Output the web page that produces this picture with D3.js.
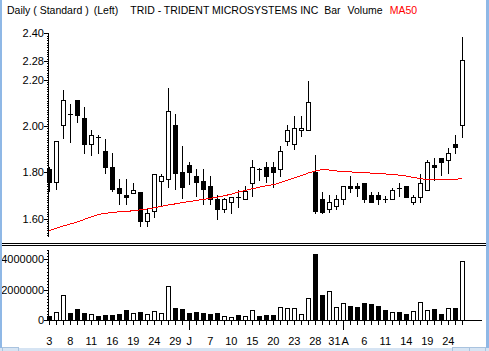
<!DOCTYPE html>
<html><head><meta charset="utf-8">
<script src="https://cdn.jsdelivr.net/npm/d3@7"></script>
<style>
body{margin:0;background:#fff;}
svg{display:block;}
text{font-family:"Liberation Sans",Arial,sans-serif;font-size:11px;fill:#000;}
</style>
</head><body>
<svg id="c" width="489" height="351"></svg>
<script>
// ---- data (TRID daily, Jun 3 – Aug 26 2009) ----
const dates = ["06-03","06-04","06-05","06-08","06-09","06-10","06-11","06-12","06-15","06-16","06-17","06-18","06-19","06-22","06-23","06-24","06-25","06-26","06-29","06-30",
"07-01","07-02","07-06","07-07","07-08","07-09","07-10","07-13","07-14","07-15","07-16","07-17","07-20","07-21","07-22","07-23","07-24","07-27","07-28","07-29","07-30","07-31",
"08-03","08-04","08-05","08-06","08-07","08-10","08-11","08-12","08-13","08-14","08-17","08-18","08-19","08-20","08-21","08-24","08-25","08-26"];
const open  = [1.814,1.760,2.003,2.050,2.112,2.033,1.921,1.953,1.891,1.823,1.731,1.702,1.712,1.715,1.591,1.632,1.763,1.770,2.003,1.800,
1.830,1.783,1.762,1.740,1.684,1.640,1.671,1.692,1.684,1.753,1.814,1.822,1.822,1.814,1.934,1.922,1.981,1.981,1.801,1.684,
1.641,1.654,1.684,1.740,1.740,1.753,1.701,1.701,1.684,1.684,1.731,1.740,1.671,1.692,1.722,1.830,1.861,1.852,1.921,2.003];
const high  = [1.824,1.935,2.155,2.095,2.112,2.081,1.983,1.960,1.944,1.882,1.770,1.770,1.754,1.715,1.640,1.792,1.793,2.165,2.052,1.914,
1.845,1.813,1.813,1.784,1.702,1.691,1.692,1.722,1.742,1.853,1.820,1.845,1.845,1.914,2.003,2.042,2.042,2.193,1.875,1.714,
1.702,1.702,1.740,1.784,1.753,1.753,1.714,1.714,1.699,1.731,1.753,1.740,1.702,1.793,1.852,1.862,1.862,1.905,1.960,2.384];
const low   = [1.721,1.728,1.950,1.932,2.019,1.882,1.875,1.882,1.799,1.718,1.662,1.662,1.712,1.570,1.570,1.609,1.659,1.738,1.727,1.691,
1.751,1.699,1.662,1.662,1.600,1.630,1.623,1.652,1.684,1.699,1.767,1.760,1.738,1.783,1.919,1.902,1.958,1.981,1.623,1.623,
1.630,1.640,1.662,1.714,1.699,1.670,1.671,1.662,1.670,1.684,1.699,1.692,1.662,1.670,1.722,1.767,1.790,1.799,1.882,1.951];
const close = [1.760,1.935,2.111,2.050,2.049,1.921,1.960,1.953,1.822,1.729,1.712,1.692,1.722,1.591,1.626,1.791,1.786,2.065,1.799,1.738,
1.800,1.760,1.730,1.684,1.640,1.684,1.692,1.692,1.721,1.822,1.814,1.784,1.800,1.891,1.981,1.990,1.990,2.102,1.632,1.630,
1.671,1.684,1.740,1.731,1.731,1.684,1.671,1.684,1.684,1.722,1.731,1.692,1.692,1.753,1.843,1.822,1.843,1.882,1.911,2.283];
const volume = [260000,510000,1630000,460000,730000,440000,370000,260000,330000,330000,400000,660000,440000,530000,370000,570000,440000,2220000,790000,730000,
460000,530000,460000,400000,460000,240000,180000,330000,240000,660000,260000,330000,330000,860000,790000,790000,370000,1450000,4370000,1670000,
1910000,860000,1120000,920000,860000,1120000,1050000,920000,660000,530000,530000,400000,590000,1190000,660000,730000,400000,790000,790000,3870000];
const ma50 = [1.548,1.559,1.569,1.577,1.586,1.597,1.608,1.618,1.623,1.627,1.630,1.632,1.634,1.638,1.642,1.647,1.653,1.659,1.664,1.670,
1.674,1.679,1.683,1.688,1.693,1.699,1.706,1.715,1.722,1.729,1.736,1.742,1.747,1.755,1.766,1.776,1.786,1.797,1.806,1.812,
1.810,1.806,1.804,1.802,1.800,1.798,1.797,1.795,1.793,1.791,1.788,1.784,1.778,1.773,1.769,1.767,1.767,1.767,1.768,1.776];
const priceTicks = [1.60,1.80,2.00,2.20,2.28,2.40];
const volumeTicks = [0,2000000,4000000];
const dayTickDates  = ["06-03","06-08","06-11","06-16","06-19","06-24","06-29","07-07","07-10","07-15","07-20","07-23","07-28","07-31","08-06","08-11","08-14","08-19","08-24"];
const dayTickLabels = ["3","8","11","16","19","24","29","7","10","15","20","23","28","31","6","11","14","19","24"];
const monthTickDates  = ["07-01","08-03"];
const monthTickLabels = ["J","A"];
const titleParts = ["Daily ( Standard )","(Left)","TRID - TRIDENT MICROSYSTEMS INC","Bar","Volume","MA50"];

// ---- drawing ----
const svg = d3.select("#c");
svg.append("rect").attr("width",489).attr("height",351).attr("fill","#fff");

const x = d3.scalePoint().domain(dates).range([49.3, 462.3]);
const y = d3.scaleLinear().domain([1.6, 2.4]).range([218.7, 33.3]);
const yv = d3.scaleLinear().domain([0, 4000000]).range([320, 259.4]);
const px = d => Math.round(x(d));

const data = dates.map((d,i)=>({d,o:open[i],h:high[i],l:low[i],c:close[i],v:volume[i],m:ma50[i]}));

// title: laid out left to right
const title = svg.append("g");
const gaps = [5,12,6,7,7];
let tx = 7;
titleParts.forEach((t,i)=>{
  const el = title.append("text").attr("x",tx).attr("y",14).style("font-size","10.5px")
    .style("fill", i===titleParts.length-1 ? "#ff0000" : "#000").text(t);
  tx += el.node().getComputedTextLength() + (gaps[i]||0);
});

// price axis
const ax = svg.append("g").attr("shape-rendering","crispEdges");
ax.append("line").attr("x1",48.5).attr("x2",48.5).attr("y1",33).attr("y2",237).attr("stroke","#000");
d3.range(1.53, 2.4001, 0.01).forEach(v=>{
  ax.append("rect").attr("x",47).attr("y",Math.round(y(v))).attr("width",1).attr("height",1).attr("fill","#000");
});
priceTicks.forEach(t=>{
  const yy = Math.round(y(t))+0.5;
  ax.append("line").attr("x1",44).attr("x2",48).attr("y1",yy).attr("y2",yy).attr("stroke","#000");
  svg.append("text").attr("x",44).attr("y",y(t)+4).attr("text-anchor","end").text(t.toFixed(2));
});

// candles
const cg = svg.append("g").attr("shape-rendering","crispEdges");
data.forEach(p=>{
  const cx = px(p.d);
  const yh = Math.round(y(p.h)), yl = Math.round(y(p.l));
  cg.append("line").attr("x1",cx+0.5).attr("x2",cx+0.5).attr("y1",yh).attr("y2",yl+1).attr("stroke","#000");
  const top = Math.round(y(Math.max(p.o,p.c))), bot = Math.round(y(Math.min(p.o,p.c)));
  if (bot - top < 1) {
    cg.append("line").attr("x1",cx-2).attr("x2",cx+3).attr("y1",top+0.5).attr("y2",top+0.5).attr("stroke","#000");
  } else {
    cg.append("rect").attr("x",cx-1.5).attr("y",top+0.5).attr("width",4).attr("height",bot-top)
      .attr("fill", p.c>p.o ? "#fff" : "#000").attr("stroke","#000");
  }
});

// MA50
svg.append("path").datum(data)
  .attr("d", d3.line().x(p=>x(p.d)).y(p=>y(p.m)))
  .attr("fill","none").attr("stroke","#ff0000").attr("stroke-width",1).attr("shape-rendering","crispEdges");

// separator
svg.append("g").attr("shape-rendering","crispEdges").selectAll("line").data([243.5,245.5]).join("line")
  .attr("x1",2).attr("x2",487).attr("y1",d=>d).attr("y2",d=>d).attr("stroke","#000");

// volume axis
const vg = svg.append("g").attr("shape-rendering","crispEdges");
vg.append("line").attr("x1",48.5).attr("x2",48.5).attr("y1",250).attr("y2",321).attr("stroke","#000");
d3.range(0, 4600001, 200000).forEach(v=>{
  vg.append("rect").attr("x",47).attr("y",Math.round(yv(v))).attr("width",1).attr("height",1).attr("fill","#000");
});
volumeTicks.forEach(t=>{
  const yy = Math.round(yv(t))+0.5;
  vg.append("line").attr("x1",44).attr("x2",48).attr("y1",yy).attr("y2",yy).attr("stroke","#000");
  svg.append("text").attr("x",44).attr("y",yv(t)+4).attr("text-anchor","end").text(String(t));
});

// volume bars
data.forEach(p=>{
  const cx = px(p.d);
  const top = Math.round(yv(p.v));
  vg.append("rect").attr("x",cx-1.5).attr("y",top+0.5).attr("width",4).attr("height",320-top)
    .attr("fill", p.c>p.o ? "#fff" : "#000").attr("stroke","#000");
});
vg.append("line").attr("x1",48).attr("x2",482).attr("y1",320.5).attr("y2",320.5).attr("stroke","#000");
dates.forEach(d=>{
  const len = monthTickDates.includes(d) ? 9 : 4;
  vg.append("line").attr("x1",px(d)+0.5).attr("x2",px(d)+0.5).attr("y1",320).attr("y2",321+len).attr("stroke","#000");
});

// x labels
const labs = dayTickDates.map((d,i)=>({d,t:dayTickLabels[i]}))
  .concat(monthTickDates.map((d,i)=>({d,t:monthTickLabels[i]})))
  .sort((a,b)=>dates.indexOf(a.d)-dates.indexOf(b.d));
const lg = svg.append("g");
const nodes = labs.map(l=> lg.append("text").attr("x",x(l.d)).attr("y",345).attr("text-anchor","middle").text(l.t));
for (let i=1;i<nodes.length;i++){
  const a = nodes[i-1].node().getBBox(), b = nodes[i].node().getBBox();
  const ov = a.x + a.width - b.x;
  if (ov > 0) {
    nodes[i-1].attr("x", +nodes[i-1].attr("x") - ov/2 - 0.5);
    nodes[i].attr("x", +nodes[i].attr("x") + ov/2 + 0.5);
  }
}

// window frame
const fr = svg.append("g").attr("shape-rendering","crispEdges");
fr.append("rect").attr("x",0).attr("y",0).attr("width",2).attr("height",351).attr("fill","#8fb8e6");
fr.append("rect").attr("x",486).attr("y",0).attr("width",3).attr("height",351).attr("fill","#8fb8e6");
fr.append("rect").attr("x",0).attr("y",348).attr("width",489).attr("height",3).attr("fill","#d6e4f3");
fr.append("rect").attr("x",2.5).attr("y",347.5).attr("width",16).attr("height",5).attr("fill","none").attr("stroke","#a9c3df");
fr.append("rect").attr("x",452.5).attr("y",347.5).attr("width",17).attr("height",5).attr("fill","none").attr("stroke","#a9c3df");
fr.append("rect").attr("x",469.5).attr("y",347.5).attr("width",16).attr("height",5).attr("fill","none").attr("stroke","#a9c3df");
</script>
</body></html>
